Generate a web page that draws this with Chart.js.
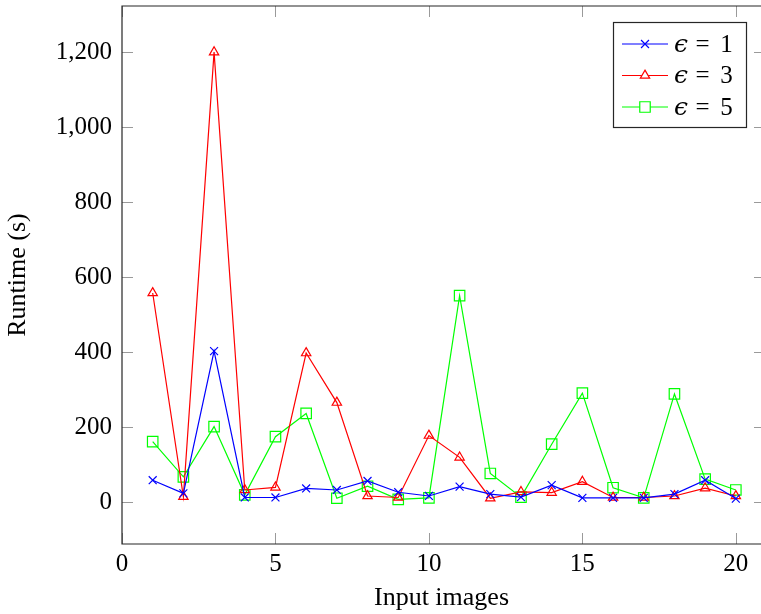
<!DOCTYPE html>
<html><head><meta charset="utf-8">
<script src="https://cdn.jsdelivr.net/npm/chart.js@4.4.1/dist/chart.umd.min.js"></script>
<style>html,body{margin:0;padding:0;background:#fff;overflow:hidden}canvas{display:block}</style>
</head><body><canvas id="c" width="761" height="614"></canvas>
<script>
// ---- data ----
const inputImages = [1,2,3,4,5,6,7,8,9,10,11,12,13,14,15,16,17,18,19,20];
const runtimeEps1 = [59,24,403,13,13,37,33,57,27,17,42,22,14,46,12,12,12,22,59,10];
const runtimeEps3 = [558,15,1200,33,40,398,266,17,13,178,120,11,28,26,55,13,13,17,38,17];
const runtimeEps5 = [162,68,202,20,175,237,11,43,8,12,551,77,14,155,291,39,12,289,62,33];
const seriesNames = ['1','3','5'];
const xTickValues = [0,5,10,15,20];
const yTickValues = [0,200,400,600,800,1000,1200];
const xAxisTitle = 'Input images';
const yAxisTitle = 'Runtime (s)';

const FONT = "'Liberation Serif','DejaVu Serif',serif";
const colors = ['#0000ff','#ff0000','#00ff00'];
const styles = ['crossRot','triangle','rect'];
const radii = [5.6,5.4,7.4];
const seriesValues = [runtimeEps1, runtimeEps3, runtimeEps5];

const datasets = seriesValues.map((vals,i)=>({
  label: '\u03F5 = ' + seriesNames[i],
  data: inputImages.map((x,k)=>({x:x,y:vals[k]})),
  borderColor: colors[i], backgroundColor: 'rgba(0,0,0,0)',
  borderWidth: 1.2, pointStyle: styles[i], pointRadius: radii[i],
  pointBorderWidth: 1.2, pointBorderColor: colors[i], pointBackgroundColor:'rgba(0,0,0,0)',
  tension: 0, fill: false
}));

const framePlugin = {
  id: 'frame',
  beforeDatasetsDraw(chart){
    const {ctx, chartArea:a, scales:{x,y}} = chart;
    const rightAxis = x.getPixelForValue(20.95);
    ctx.save();
    ctx.strokeStyle = '#9a9a9a'; ctx.lineWidth = 1;
    ctx.beginPath();
    yTickValues.forEach(v=>{
      const py = Math.round(y.getPixelForValue(v)) + 0.5;
      ctx.moveTo(a.left, py); ctx.lineTo(a.left + 11, py);
      ctx.moveTo(rightAxis, py); ctx.lineTo(rightAxis - 11, py);
    });
    xTickValues.forEach(v=>{
      const px = Math.round(x.getPixelForValue(v)) + 0.5;
      ctx.moveTo(px, a.bottom); ctx.lineTo(px, a.bottom - 11);
      ctx.moveTo(px, a.top); ctx.lineTo(px, a.top + 11);
    });
    ctx.stroke();
    ctx.strokeStyle = '#262626'; ctx.lineWidth = 1.2;
    ctx.beginPath();
    ctx.moveTo(rightAxis, a.top); ctx.lineTo(a.left, a.top);
    ctx.lineTo(a.left, a.bottom); ctx.lineTo(rightAxis, a.bottom);
    ctx.stroke();
    ctx.restore();
  }
};

const legendPlugin = {
  id: 'boxLegend',
  afterDraw(chart){
    const ctx = chart.ctx;
    ctx.save();
    const bx = 613.5, by = 22.5, bw = 133, bh = 105;
    ctx.fillStyle = '#fff'; ctx.fillRect(bx, by, bw, bh);
    ctx.strokeStyle = '#262626'; ctx.lineWidth = 1.2; ctx.strokeRect(bx, by, bw, bh);
    const rows = [44, 75.5, 107];
    chart.data.datasets.forEach((ds,i)=>{
      const ly = rows[i];
      ctx.strokeStyle = ds.borderColor; ctx.lineWidth = 1.2;
      ctx.beginPath(); ctx.moveTo(622, ly); ctx.lineTo(668, ly); ctx.stroke();
      ctx.fillStyle = '#fff';
      ctx.strokeStyle = ds.borderColor;
      Chart.helpers.drawPoint(ctx, {pointStyle: ds.pointStyle, radius: ds.pointRadius, borderWidth: 1.2, rotation:0}, 645, ly);
      ctx.fillStyle = '#000';
      ctx.textBaseline = 'alphabetic';
      ctx.textAlign = 'left';
      ctx.font = "italic 25px 'DejaVu Serif','Liberation Serif',serif";
      ctx.fillText('\u03F5', 674, ly + 7.5);
      ctx.font = "25px " + FONT;
      ctx.textAlign = 'center';
      ctx.fillText('=', 702.5, ly + 7.5);
      ctx.fillText(seriesNames[i], 726.5, ly + 7.5);
    });
    ctx.restore();
  }
};

new Chart(document.getElementById('c'), {
  type: 'line',
  data: { datasets },
  options: {
    responsive: false, animation: false,
    devicePixelRatio: 1,
    layout: { autoPadding: false, padding: { top: 6, right: 0, left: 0, bottom: 0 } },
    plugins: { legend: { display: false }, tooltip: { enabled: false } },
    scales: {
      x: {
        type: 'linear', min: 0, max: 20.82,
        afterBuildTicks: s => { s.ticks = xTickValues.map(v=>({value:v})); },
        afterFit: s => { s.height = 70; s.paddingLeft = 0; s.paddingRight = 0; },
        grid: { display: false, drawTicks: false }, border: { display: false },
        ticks: { color: '#000', font: { family: FONT, size: 25 }, padding: 5, maxRotation: 0 },
        title: { display: true, text: xAxisTitle, color: '#000', font: { family: FONT, size: 26 }, padding: { top: 0, bottom: 0 } }
      },
      y: {
        min: -111, max: 1323,
        afterBuildTicks: s => { s.ticks = yTickValues.map(v=>({value:v})); },
        afterFit: s => { s.width = 122; s.paddingTop = 0; s.paddingBottom = 0; },
        grid: { display: false, drawTicks: false }, border: { display: false },
        ticks: { color: '#000', font: { family: FONT, size: 25 }, padding: 10,
                 callback: v => v.toLocaleString('en-US') },
        title: { display: true, text: yAxisTitle, color: '#000', font: { family: FONT, size: 26 }, padding: { top: 3, bottom: 0 } }
      }
    }
  },
  plugins: [framePlugin, legendPlugin]
});
</script></body></html>
